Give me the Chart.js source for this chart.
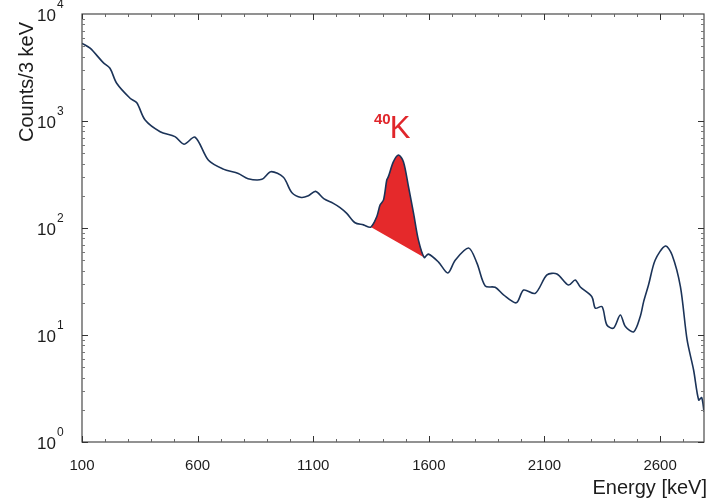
<!DOCTYPE html>
<html>
<head>
<meta charset="utf-8">
<script src="https://cdn.jsdelivr.net/npm/chart.js@4/dist/chart.umd.min.js"></script>
<style>
  html, body { margin: 0; padding: 0; background: #fff; }
  #wrap { width: 713px; height: 504px; }
</style>
</head>
<body>
<div id="wrap"><canvas id="c" width="713" height="504"></canvas></div>
<script>
// Gamma spectrum: energy (keV) and counts per 3 keV channel
const energy = [100, 135, 192, 221, 250, 308, 337, 373, 438, 502, 541, 589, 647, 711, 776, 818, 878, 917, 971, 1007,
  1048, 1079, 1110, 1147, 1187, 1216, 1245, 1281, 1317, 1349, 1375, 1389, 1404, 1418, 1425, 1447, 1469, 1490, 1512, 1534,
  1555, 1580, 1598, 1642, 1682, 1714, 1772, 1808, 1844, 1887, 1923, 1978, 2010, 2060, 2111, 2154, 2204, 2233, 2255, 2305,
  2320, 2349, 2370, 2399, 2428, 2450, 2486, 2514, 2529, 2550, 2579, 2623, 2652, 2688, 2717, 2745, 2767, 2780, 2790];
const counts = [5320, 4790, 3510, 3110, 2250, 1630, 1480, 1020, 794, 714, 607, 705, 429, 355, 323, 289, 285, 336, 298, 215,
  193, 200, 220, 187, 170, 155, 137, 112, 107, 102, 128, 164, 183, 281, 302, 417, 481, 417, 243, 137,
  77, 53, 57, 48, 38, 50, 65, 47, 28.7, 27.9, 23.7, 20, 26.3, 24.5, 36.4, 37.2, 29.3, 32.7, 28.1, 22.8,
  17.8, 18.4, 12.4, 11.6, 15.4, 12.0, 10.7, 14.8, 20.5, 29.3, 50.2, 67.9, 56, 28.3, 8.98, 4.71, 2.47, 2.6, 1.92];

// 40K photopeak region (start and end of the shaded area)
const peakStart = 1349;
const peakEnd = 1580;
const peakLabel = { mass: '40', symbol: 'K' };

const xTicks = [100, 600, 1100, 1600, 2100, 2600];
const yExponents = [0, 1, 2, 3, 4];
const xTitle = 'Energy [keV]';
const yTitle = 'Counts/3 keV';

const spectrum = energy.map((e, i) => ({ x: e, y: counts[i] }));
const peak = spectrum.filter(p => p.x >= peakStart && p.x <= peakEnd);

const FONT = '"Liberation Sans", Arial, sans-serif';
const INK = '#1c1c1c';
const FRAME = '#4a4a4a';

const frameAndLabels = {
  id: 'frameAndLabels',
  afterDraw(chart) {
    const { ctx, chartArea: a, scales } = chart;
    const xs = scales.x, ys = scales.y;
    ctx.save();
    // frame
    ctx.strokeStyle = FRAME;
    ctx.lineWidth = 1.2;
    ctx.strokeRect(a.left, a.top, a.right - a.left, a.bottom - a.top);

    // x ticks (inward, bottom and top)
    ctx.lineWidth = 1;
    for (let v = 100; v <= xs.max; v += 100) {
      const px = Math.round(xs.getPixelForValue(v)) + 0.5;
      const major = xTicks.includes(v);
      const len = major ? 6 : 3;
      ctx.strokeStyle = major ? '#333' : '#666';
      ctx.beginPath();
      ctx.moveTo(px, a.bottom); ctx.lineTo(px, a.bottom - len);
      ctx.moveTo(px, a.top); ctx.lineTo(px, a.top + len);
      ctx.stroke();
    }
    // y ticks (inward, left and right)
    for (let e = 0; e < 4; e++) {
      for (let m = 1; m <= 9; m++) {
        const v = m * Math.pow(10, e);
        const py = Math.round(ys.getPixelForValue(v)) + 0.5;
        const major = m === 1;
        const len = major ? 6 : 3;
        ctx.strokeStyle = major ? '#333' : '#777';
        ctx.beginPath();
        ctx.moveTo(a.left, py); ctx.lineTo(a.left + len, py);
        ctx.moveTo(a.right, py); ctx.lineTo(a.right - len, py);
        ctx.stroke();
      }
    }

    // x tick labels
    ctx.fillStyle = INK;
    ctx.font = '15px ' + FONT;
    ctx.textAlign = 'center';
    ctx.textBaseline = 'middle';
    xTicks.forEach(v => ctx.fillText(String(v), xs.getPixelForValue(v), a.bottom + 24));

    // y tick labels: 10 with superscript exponent
    yExponents.forEach(n => {
      const py = ys.getPixelForValue(Math.pow(10, n));
      const expLeft = a.left - 25;
      ctx.textBaseline = 'middle';
      ctx.font = '12px ' + FONT;
      ctx.textAlign = 'left';
      ctx.fillText(String(n), expLeft, py - 9);
      ctx.font = '17px ' + FONT;
      ctx.textAlign = 'right';
      ctx.fillText('10', expLeft - 1, py + 2);
    });

    // axis titles
    ctx.font = '20px ' + FONT;
    ctx.textAlign = 'right';
    ctx.textBaseline = 'middle';
    ctx.fillText(xTitle, 707, a.bottom + 46);
    ctx.save();
    ctx.translate(27, 82);
    ctx.rotate(-Math.PI / 2);
    ctx.textAlign = 'center';
    ctx.fillText(yTitle, 0, 0);
    ctx.restore();

    // peak annotation
    const kx = xs.getPixelForValue(1461);
    ctx.fillStyle = '#e0262b';
    ctx.textBaseline = 'alphabetic';
    ctx.font = 'bold 15px ' + FONT;
    ctx.textAlign = 'right';
    ctx.fillText(peakLabel.mass, kx - 6, 124);
    ctx.font = '31px ' + FONT;
    ctx.textAlign = 'left';
    ctx.fillText(peakLabel.symbol, kx - 7, 138);
    ctx.restore();
  }
};

new Chart(document.getElementById('c'), {
  type: 'scatter',
  data: {
    datasets: [
      {
        data: spectrum,
        showLine: true,
        borderColor: '#1b3358',
        borderWidth: 1.6,
        pointRadius: 0,
        tension: 0.3,
        fill: false,
        order: 0
      },
      {
        data: peak,
        showLine: true,
        borderWidth: 0,
        borderColor: 'rgba(0,0,0,0)',
        backgroundColor: '#e5292b',
        pointRadius: 0,
        tension: 0.3,
        fill: 'shape',
        order: 1
      }
    ]
  },
  options: {
    responsive: false,
    animation: false,
    devicePixelRatio: 1,
    layout: { padding: { left: 82, right: 9, top: 14, bottom: 62 } },
    plugins: { legend: { display: false }, tooltip: { enabled: false } },
    scales: {
      x: { type: 'linear', min: 100, max: 2790, display: false },
      y: { type: 'logarithmic', min: 1, max: 10000, display: false }
    }
  },
  plugins: [frameAndLabels]
});
</script>
</body>
</html>
